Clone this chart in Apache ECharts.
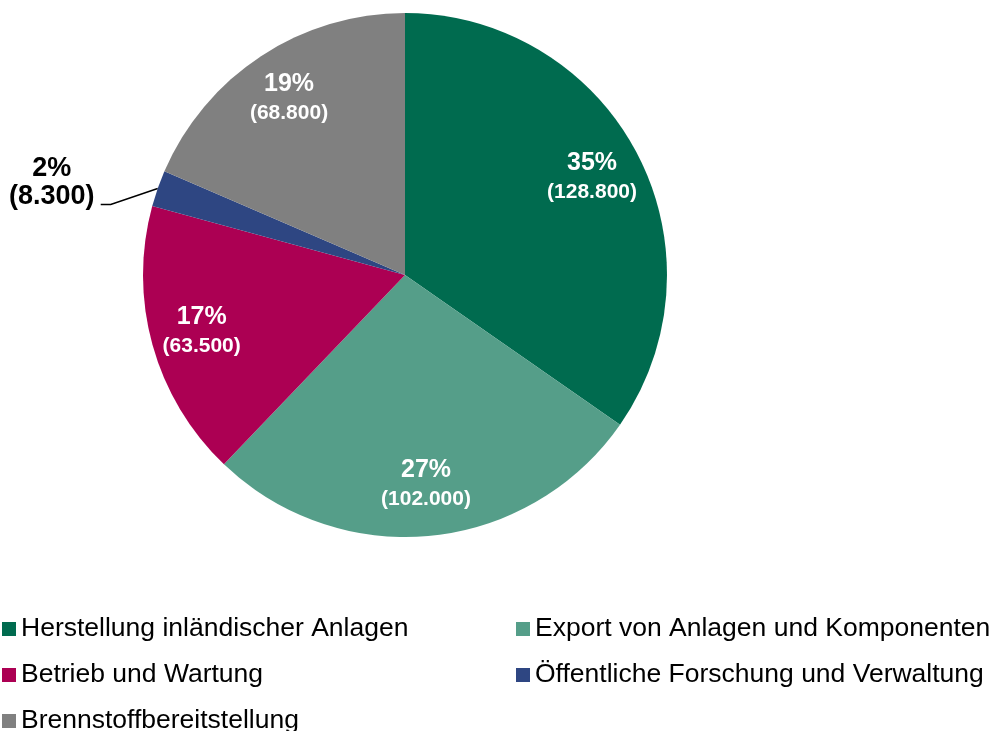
<!DOCTYPE html>
<html><head><meta charset="utf-8">
<script src="https://cdn.jsdelivr.net/npm/echarts@6/dist/echarts.min.js"></script>
<style>html,body{margin:0;padding:0;background:#fff}#c{width:994px;height:731px}</style>
</head><body><div id="c"></div>
<script>
const categories = ['Herstellung inländischer Anlagen','Export von Anlagen und Komponenten','Betrieb und Wartung','Öffentliche Forschung und Verwaltung','Brennstoffbereitstellung'];
const values = [128800, 102000, 63500, 8300, 68800];
const colors = ['#006B4F','#559E89','#AC0053','#2E4682','#808080'];
const outsideLabels = [false, false, false, true, false];
const legendLeft = [categories[0], categories[2], categories[4]];
const legendRight = [categories[1], categories[3]];

const total = values.reduce((a, b) => a + b, 0);
function fmt(v) { return String(v).replace(/\B(?=(\d{3})+(?!\d))/g, '.'); }
function labelText(p) {
  const pct = Math.round(p.value / total * 100);
  return '{p|' + pct + '%}\n{v|(' + fmt(p.value) + ')}';
}
const FONT = 'Arial, "Liberation Sans", sans-serif';

const chart = echarts.init(document.getElementById('c'), null, {renderer: 'canvas'});
const legendCommon = {
  orient: 'vertical', top: 614, height: 200, padding: 0,
  itemWidth: 14, itemHeight: 14, itemGap: 16,
  icon: 'rect', selectedMode: false,
  textStyle: {fontSize: 26.5, lineHeight: 30, color: '#000', fontFamily: FONT}
};
chart.setOption({
  animation: false,
  color: colors,
  legend: [
    Object.assign({}, legendCommon, {left: 2, data: legendLeft}),
    Object.assign({}, legendCommon, {left: 516, data: legendRight})
  ],
  series: [
    {
      type: 'pie', center: [405, 275], radius: [0, 262], startAngle: 90, clockwise: true,
      avoidLabelOverlap: false,
      itemStyle: {borderWidth: 0},
      emphasis: {disabled: true},
      label: {show: false},
      labelLine: {show: false},
      data: categories.map((n, i) => ({
        name: n, value: values[i],
        itemStyle: {color: colors[i]},
        label: outsideLabels[i] ? {
          show: true, position: 'outside', formatter: labelText,
          rich: {
            p: {fontSize: 27, fontWeight: 'bold', color: '#000', lineHeight: 28, fontFamily: FONT, align: 'center'},
            v: {fontSize: 27, fontWeight: 'bold', color: '#000', lineHeight: 28, fontFamily: FONT, align: 'center'}
          }
        } : {show: false},
        labelLine: outsideLabels[i] ? {show: true, length: 20, length2: 10, lineStyle: {color: '#000', width: 1.5}} : {show: false}
      })),
      labelLayout: function (params) {
        if (!outsideLabels[params.dataIndex] || !params.labelLinePoints) return {};
        const p0 = params.labelLinePoints[0];
        return {
          x: p0[0] - 106, y: p0[1] - 6, align: 'center', verticalAlign: 'middle',
          labelLinePoints: [p0, [p0[0] - 47, p0[1] + 16], [p0[0] - 57, p0[1] + 16]]
        };
      }
    },
    {
      type: 'pie', center: [405, 275], radius: [154, 262], startAngle: 90, clockwise: true,
      avoidLabelOverlap: false, silent: true,
      itemStyle: {color: 'rgba(0,0,0,0)'},
      emphasis: {disabled: true},
      labelLine: {show: false},
      label: {
        position: 'inside', formatter: labelText,
        rich: {
          p: {fontSize: 25, fontWeight: 'bold', color: '#fff', lineHeight: 29, fontFamily: FONT, align: 'center'},
          v: {fontSize: 21, fontWeight: 'bold', color: '#fff', lineHeight: 29, fontFamily: FONT, align: 'center'}
        }
      },
      data: categories.map((n, i) => ({
        name: n, value: values[i],
        label: {show: !outsideLabels[i]}
      }))
    }
  ]
});
</script></body></html>
